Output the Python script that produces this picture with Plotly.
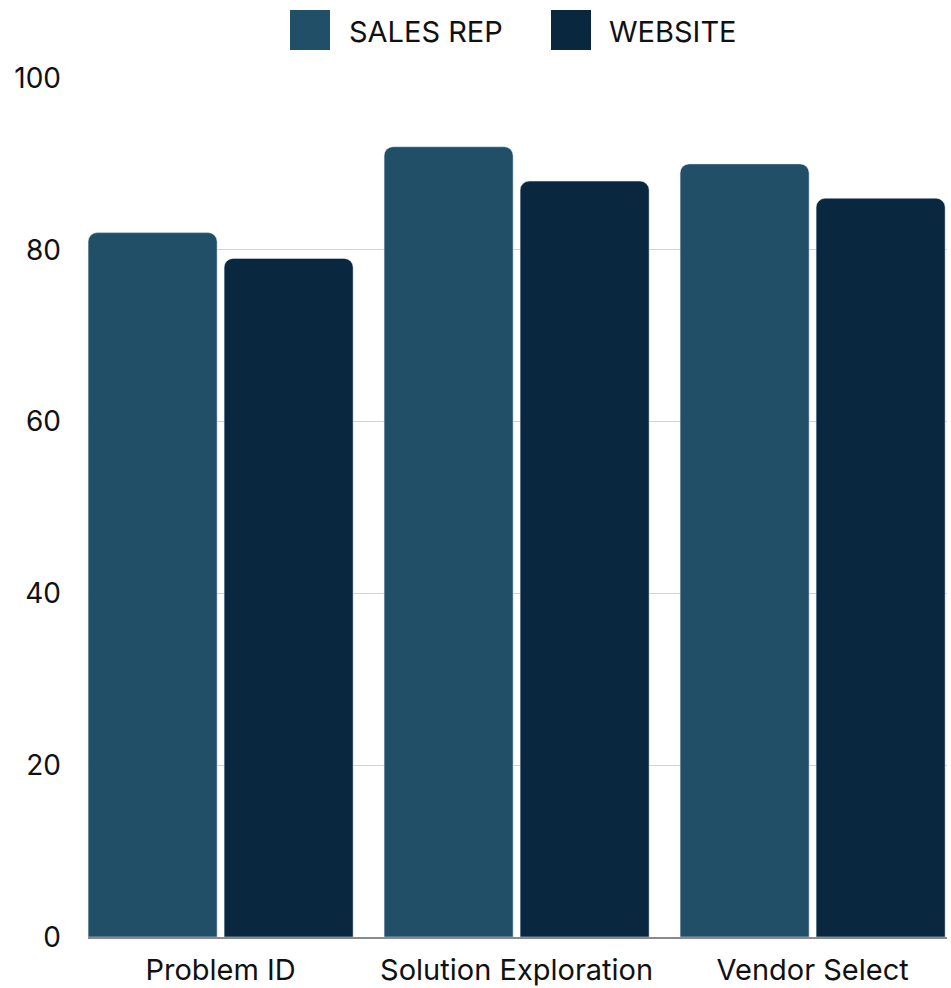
import plotly.graph_objects as go

categories = ["Problem ID", "Solution Exploration", "Vendor Select"]
sales_rep = [82, 92, 90]
website = [79, 88, 86]
series_names = ["SALES REP", "WEBSITE"]
colors = ["#214F68", "#092840"]
y_ticks = [0, 20, 40, 60, 80, 100]

FONT = "Inter"

fig = go.Figure()
fig.add_trace(go.Bar(x=categories, y=sales_rep, name=series_names[0],
                     marker=dict(color=colors[0], cornerradius=9), showlegend=False))
fig.add_trace(go.Bar(x=categories, y=website, name=series_names[1],
                     marker=dict(color=colors[1], cornerradius=9), showlegend=False))

# custom legend with large square swatches
legend_items = [(series_names[0], colors[0], 290, 347), (series_names[1], colors[1], 551, 607)]
for name, col, sx, tx in legend_items:
    fig.add_shape(type="rect", xref="paper", yref="paper",
                  x0=(sx - 88) / 859, x1=(sx + 40 - 88) / 859,
                  y0=(937 - 50) / 859, y1=(937 - 10) / 859,
                  fillcolor=col, line=dict(width=0), layer="above")
    fig.add_annotation(text=name, xref="paper", yref="paper",
                       x=(tx - 88) / 859, y=(937 - 31) / 859,
                       xanchor="left", yanchor="middle", showarrow=False,
                       font=dict(family=FONT, size=29, color="#111111"))

fig.update_layout(
    width=951, height=988,
    margin=dict(l=88, r=4, t=78, b=51, autoexpand=False),
    paper_bgcolor="white", plot_bgcolor="white",
    barmode="group", bargap=0.081, bargroupgap=0.0515,
    font=dict(family=FONT, size=28, color="#111111"),
    xaxis=dict(range=[-0.448, 2.454], showline=True, linecolor="#8a8a8a", linewidth=2,
               ticks="", tickfont=dict(size=29), showgrid=False, ticklabelstandoff=6,
               automargin=False),
    yaxis=dict(range=[0, 100], tickvals=y_ticks, showgrid=True, gridcolor="#d2d2d2",
               gridwidth=1, zeroline=False, ticks="", ticklabelstandoff=26,
               tickfont=dict(size=28), automargin=False),
)

fig.write_html("out.html")
